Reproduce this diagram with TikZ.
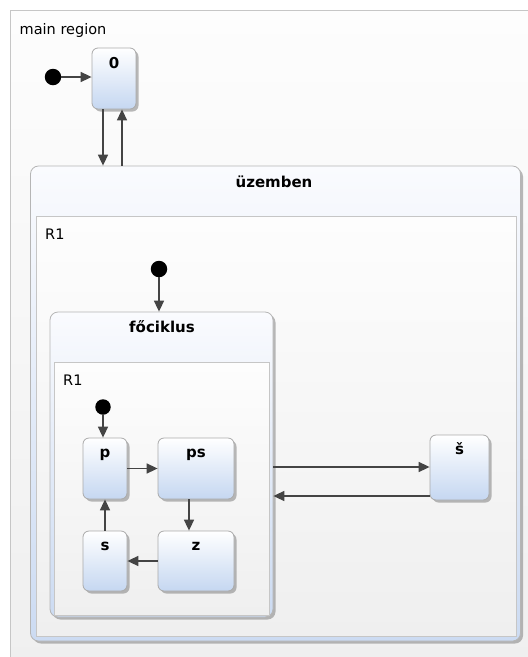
\documentclass[tikz,border=0pt]{standalone}
\usepackage{fontspec}
\setmainfont{DejaVu Sans}
\usetikzlibrary{shadows,arrows.meta,calc}
\definecolor{stblue}{HTML}{C5D7F1}
\definecolor{stborder}{HTML}{AAAAAA}
\definecolor{arrcol}{HTML}{444444}
\definecolor{regborder}{HTML}{C6C6C6}
\definecolor{compborder}{HTML}{B5B5B5}
\definecolor{comptop}{HTML}{FAFBFE}
\definecolor{compbot}{HTML}{CCDBF2}
\definecolor{regtop}{HTML}{FDFDFD}
\definecolor{regbot}{HTML}{EFEFEF}
\begin{document}
\begin{tikzpicture}[x=1pt,y=-1pt,
  txt/.style={font=\fontsize{14.5}{16}\selectfont, inner sep=0pt, anchor=base west},
  ttl/.style={font=\fontsize{15}{17}\selectfont\bfseries, inner sep=0pt, anchor=base},
  statebox/.style={draw=stborder, line width=0.8pt, rounded corners=6pt,
    top color=white, bottom color=stblue, inner sep=0pt,
    drop shadow={shadow xshift=2.5pt, shadow yshift=-2.5pt, fill=black!50, opacity=0.55}},
  compbox/.style={draw=compborder, line width=0.8pt, rounded corners=8pt,
    top color=comptop, bottom color=compbot, inner sep=0pt,
    drop shadow={shadow xshift=2.5pt, shadow yshift=-2.5pt, fill=black!50, opacity=0.55}},
  regbox/.style={draw=regborder, line width=0.8pt, top color=regtop, bottom color=regbot, inner sep=0pt},
  initdot/.style={circle, fill=black, minimum size=16.5pt, inner sep=0pt},
  arrow/.style={draw=arrcol, line width=1.6pt, -{Triangle[length=11pt,width=10pt]}}
]
\clip (0,0) rectangle (528,657);
\useasboundingbox (0,0) rectangle (528,657);
\fill[white] (0,0) rectangle (528,657);
% main region
\node[regbox, minimum width=530pt, minimum height=660pt, anchor=north west] (main) at (10,10) {};
\node[txt] (mainlbl) at (19.5,34) {main region};

% state 0
\node[statebox, minimum width=44pt, minimum height=61pt] (zero) at (114,78.5) {};
\node[ttl] (zerolbl) at ($(zero.north)+(0,21)$) {0};
\node[initdot] (init1) at (53,77) {};

% üzemben
\node[compbox, minimum width=490pt, minimum height=475pt] (uz) at (275.5,403.5) {};
\node[ttl] (uzlbl) at (274,187) {üzemben};
\node[regbox, minimum width=480pt, minimum height=420pt, anchor=north west] (uzreg) at (36,216) {};
\node[txt] (uzr1) at (45,239) {R1};
\node[initdot] (init2) at (159,269) {};

% főciklus
\node[compbox, minimum width=223pt, minimum height=305pt] (fo) at (161.5,464.5) {};
\node[ttl] (folbl) at (162,332) {főciklus};
\node[regbox, minimum width=215pt, minimum height=253pt, anchor=north west] (foreg) at (54,362) {};
\node[txt] (for1) at (63,385) {R1};
\node[initdot, minimum size=15.5pt] (init3) at (103,407) {};

% inner states
\node[statebox, minimum width=44pt, minimum height=61pt] (p) at (105,468.5) {};
\node[ttl] (plbl) at ($(p.north)+(0,20)$) {p};
\node[statebox, minimum width=76pt, minimum height=61pt] (ps) at (196,468.5) {};
\node[ttl] (pslbl) at ($(ps.north)+(0,20)$) {ps};
\node[statebox, minimum width=76pt, minimum height=60pt] (z) at (196,561) {};
\node[ttl] (zlbl) at ($(z.north)+(0,20)$) {z};
\node[statebox, minimum width=44pt, minimum height=60pt] (s) at (105,561) {};
\node[ttl] (slbl) at ($(s.north)+(0,20)$) {s};

% š
\node[statebox, minimum width=59pt, minimum height=65pt] (sh) at (459.5,467.5) {};
\node[ttl] (shlbl) at ($(sh.north)+(0,20)$) {š};

% helper coordinates
\coordinate (zd) at ($(zero.south)+(-11,0)$);
\coordinate (zu) at ($(zero.south)+(8,0)$);
\coordinate (fe1) at ($(fo.east)+(0,2.5)$);
\coordinate (fe2) at ($(fo.east)+(0,31.5)$);
\coordinate (pss) at ($(ps.south)+(-7,0)$);

% connectors
\draw[arrow] (init1) -- (init1 -| zero.west);
\draw[arrow] (zd) -- (zd |- uz.north);
\draw[arrow] (zu |- uz.north) -- (zu);
\draw[arrow] (init2) -- (init2 |- fo.north);
\draw[arrow] (fe1) -- (fe1 -| sh.west);
\draw[arrow] (fe2 -| sh.west) -- (fe2);
\draw[arrow] (init3) -- (init3 |- p.north);
\draw[arrow] (p.east) -- (p.east -| ps.west);
\draw[arrow] (pss) -- (pss |- z.north);
\draw[arrow] (z.west) -- (z.west -| s.east);
\draw[arrow] (s.north) -- (s.north |- p.south);
\end{tikzpicture}
\end{document}
